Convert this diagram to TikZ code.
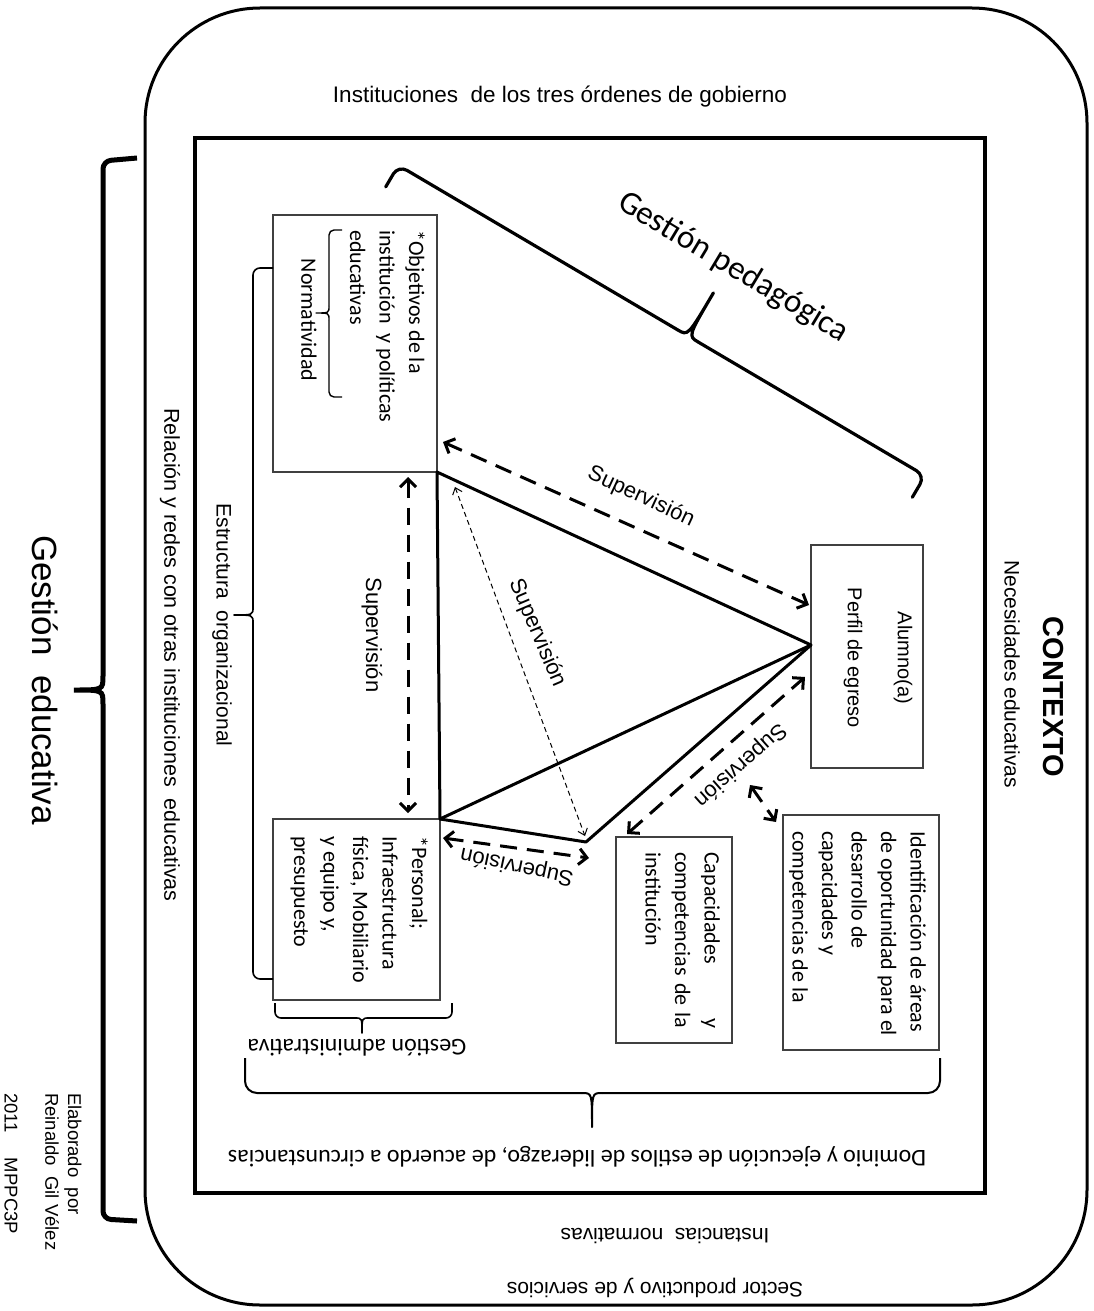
\documentclass[tikz,border=0pt]{standalone}
\usepackage{fontspec}
\setmainfont{Liberation Sans}
\newfontfamily\calfont{Carlito}
\usetikzlibrary{arrows.meta}
\newcommand\myfs[2]{\fontsize{#1}{#2}\selectfont}
\begin{document}
\begin{tikzpicture}[x=1pt,y=-1pt,
  box/.style={draw=black!75, line width=1.4pt, inner sep=0pt, outer sep=0pt, anchor=north west},
  btxt/.style={rotate=-90, anchor=north west, inner sep=0pt, align=left, font=\calfont\myfs{22}{29.5}},
  lbl/.style={font=\myfs{21}{25}, inner sep=0pt},
  suplbl/.style={font=\myfs{22}{26}, inner sep=0pt},
  tri/.style={line width=3pt, line join=round},
  dsh/.style={line width=3pt, dash pattern=on 17pt off 10pt, {Straight Barb[length=8pt,width=16pt]}-{Straight Barb[length=8pt,width=16pt]}},
  thindash/.style={line width=1pt, dash pattern=on 5pt off 3.5pt, {Straight Barb[length=6pt,width=10pt]}-{Straight Barb[length=6pt,width=10pt]}},
  brl/.style={line width=1.6pt, line join=round},
  bigbr/.style={line width=3.2pt, line cap=round, line join=round},
]
\fill[white] (0,0) rectangle (1094,1311);
\useasboundingbox (0,0) rectangle (1094,1311);

% frames
\draw[line width=3pt, rounded corners=115pt] (145,8) rectangle (1087,1305);
\draw[line width=3.2pt] (195,138) rectangle (985,1193);

% Gestion educativa bracket
\draw[line width=5pt, rounded corners=8pt] (137,158) -- (103,161) -- (103,676);
\draw[line width=5pt] (103,676) .. controls (103,690) .. (74,690) .. controls (103,690) .. (103,704);
\draw[line width=5pt, rounded corners=8pt] (103,704) -- (103,1219) -- (137,1221);
\node[font=\myfs{35}{40}, rotate=-90, inner sep=0pt] (ged) at (45,680) {Gestión\ \ educativa};

% credits
\node[font=\myfs{18.5}{22}, rotate=-90, anchor=west, inner sep=0pt] (cr1) at (73,1093) {Elaborado\ \ por};
\node[font=\myfs{18.5}{22}, rotate=-90, anchor=west, inner sep=0pt] (cr2) at (52,1093) {Reinaldo\ \ Gil Vélez};
\node[font=\myfs{18.5}{22}, rotate=-90, anchor=west, inner sep=0pt] (cr3) at (11,1093) {2011\hspace{25pt}MPPC3P};

% outer labels
\node[lbl, font=\myfs{22.5}{26}] (inst) at (560,97) {Instituciones\ \ de los tres órdenes de gobierno};
\node[lbl, rotate=180] (norm) at (665,1236) {Instancias\ \ normativas};
\node[lbl, rotate=180] (sect) at (655,1288) {Sector productivo y de servicios};
\node[lbl, font=\myfs{21.5}{25}, rotate=-90] (rel) at (170,655) {Relación y redes con otras instituciones\ \ educativas};
\node[lbl, rotate=-90] (nec) at (1012,674) {Necesidades educativas};
\node[font=\bfseries\myfs{29}{34}, rotate=-90, inner sep=0pt] (ctx) at (1053,697) {CONTEXTO};

% boxes
\node[box, minimum width=164pt, minimum height=257pt] (obj) at (273,215) {};
\node[box, minimum width=167pt, minimum height=181pt] (per) at (273,819) {};
\node[box, minimum width=116pt, minimum height=206pt] (cap) at (616,837) {};
\node[box, minimum width=156pt, minimum height=235pt] (ide) at (783,815) {};
\node[box, minimum width=112pt, minimum height=223pt] (alu) at (811,545) {};

% box texts
\node[btxt] (objt) at (425,230) {*Objetivos de la\\institución\ \ y políticas\\educativas};
\node[rotate=-90, inner sep=0pt, font=\calfont\myfs{22}{25}] (normt) at (309,320) {Normatividad};
\draw[brl, line width=1.4pt, rounded corners=5pt] (342,230) -- (329,230) -- (329,306);
\draw[brl, line width=1.4pt] (329,306) .. controls (329,313) .. (316,313) .. controls (329,313) .. (329,320);
\draw[brl, line width=1.4pt, rounded corners=5pt] (329,320) -- (329,397) -- (342,397);
\node[btxt] (pert) at (428,836) {*Personal;\\Infraestructura\\física, Mobiliario\\y equipo y,\\presupuesto};
\node[btxt, text width=176pt] (capt) at (720,852) {Capacidades\hfill y\\competencias\hfill de\hfill la\\institución};
\node[btxt] (idet) at (926,831) {Identificación de áreas\\de oportunidad para el\\desarrollo de\\capacidades y\\competencias de la};
\node[rotate=-90, align=center, font=\myfs{20}{24}, inner sep=0pt] (alut) at (878,658) {Alumno(a)\\[26pt]Perfil de egreso};

% Estructura organizacional brace
\draw[brl, rounded corners=7pt] (273,268) -- (253,268) -- (253,607);
\draw[brl] (253,607) .. controls (253,615) .. (234,615) .. controls (253,615) .. (253,623);
\draw[brl, rounded corners=7pt] (253,623) -- (253,979) -- (273,979);
\node[lbl, rotate=-90] (est) at (222,625) {Estructura\ \ organizacional};

% Gestion administrativa brace
\draw[brl, rounded corners=6pt] (275,1003) -- (275,1018) -- (355,1018);
\draw[brl] (355,1018) .. controls (362,1018) .. (362,1033) .. controls (362,1018) .. (369,1018);
\draw[brl, rounded corners=6pt] (369,1018) -- (452,1018) -- (452,1003);
\node[font=\calfont\myfs{24}{28}, rotate=180, inner sep=0pt] (ga) at (357,1048) {Gestión administrativa};

% Dominio brace
\draw[brl, line width=2pt, rounded corners=12pt] (245,1058) -- (245,1093) -- (582,1093);
\draw[brl, line width=2pt] (582,1093) .. controls (592,1093) .. (592,1127) .. controls (592,1093) .. (602,1093);
\draw[brl, line width=2pt, rounded corners=12pt] (602,1093) -- (940,1093) -- (940,1058);
\node[font=\calfont\myfs{24}{28}, rotate=180, inner sep=0pt] (dom) at (577,1157) {Dominio y ejecución de estilos de liderazgo, de acuerdo a circunstancias};

% Gestion pedagogica brace
\coordinate (gpM) at (688,336);
\draw[bigbr, rounded corners=10pt] (385.7,186.9) -- (398.4,165.3) -- (677.7,329.9);
\draw[bigbr] (677.7,329.9) .. controls (gpM) .. (713.4,292.9) .. controls (gpM) .. (698.3,342.1);
\draw[bigbr, rounded corners=10pt] (698.3,342.1) -- (925,475.7) -- (912.3,497.3);
\node[font=\calfont\myfs{33}{38}, rotate=-31, inner sep=0pt] (gp) at (733,268) {Gestión pedagógica};

% triangle
\coordinate (C) at (811,645);
\coordinate (D) at (586,842);
\draw[tri] (C) -- (obj.south east) -- (per.north east) -- cycle;
\draw[tri] (per.north east) -- (D) -- (C);

% supervision arrows
\coordinate (s1a) at (408,477); \coordinate (s1b) at (408,813);
\coordinate (s2a) at (443,442); \coordinate (s2b) at (809,605);
\coordinate (s3a) at (455,487); \coordinate (s3b) at (585,836);
\coordinate (s4a) at (627,834); \coordinate (s4b) at (805,677);
\coordinate (s5a) at (750,785); \coordinate (s5b) at (776,822);
\coordinate (s6a) at (443,838); \coordinate (s6b) at (589,858);
\draw[dsh] (s1a) -- (s1b);
\draw[dsh] (s2a) -- (s2b);
\draw[thindash] (s3a) -- (s3b);
\draw[dsh] (s4a) -- (s4b);
\draw[dsh] (s5a) -- (s5b);
\draw[dsh] (s6a) -- (s6b);

\node[suplbl, rotate=-90] (l1) at (372,635) {Supervisión};
\node[suplbl, rotate=-25] (l2) at (641,497) {Supervisión};
\node[suplbl, rotate=-67] (l3) at (537,633) {Supervisión};
\node[suplbl, rotate=221.5] (l4) at (740,765) {Supervisión};
\node[suplbl, rotate=168] (l6) at (517,866) {Supervisión};
\end{tikzpicture}
\end{document}
